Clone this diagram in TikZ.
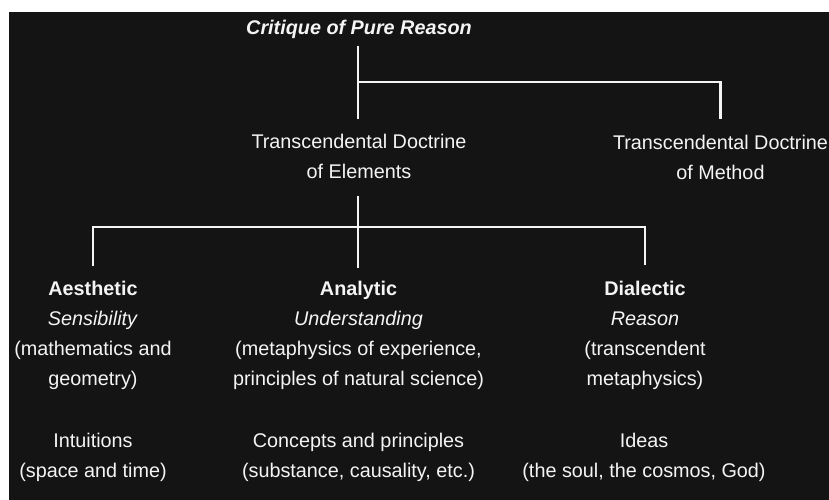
\documentclass[tikz,border=0pt]{standalone}
\usepackage{fontspec}
\setmainfont{Liberation Sans}
\definecolor{bgc}{HTML}{141414}
\definecolor{fgc}{HTML}{F4F4F4}
\begin{document}
\begin{tikzpicture}[x=1pt,y=-1pt,
  txt/.style={text=fgc, inner sep=0pt, align=center, anchor=base,
    font=\fontsize{19.8}{30}\selectfont},
  conn/.style={draw=fgc, line width=2.9pt}]
\useasboundingbox (0,0) rectangle (829,500);
\fill[white] (0,0) rectangle (829,500);
\fill[bgc] (9,12) rectangle (829,499.5);
% nodes (anchor base = baseline of the last line)
\node[txt] (t) at (359,35) {\textbf{\textit{Critique of Pure Reason}}};
\node[txt] (el) at (359,178) {Transcendental Doctrine\\of Elements};
\node[txt] (me) at (720.5,179) {Transcendental Doctrine\\of Method};
\node[txt] (ae) at (93,385) {\textbf{Aesthetic}\\\textit{Sensibility}\\(mathematics and\\geometry)};
\node[txt] (an) at (358.5,385) {\textbf{Analytic}\\\textit{Understanding}\\(metaphysics of experience,\\principles of natural science)};
\node[txt] (di) at (645,385) {\textbf{Dialectic}\\\textit{Reason}\\(transcendent\\metaphysics)};
\node[txt] (aeb) at (93,477) {Intuitions\\(space and time)};
\node[txt] (anb) at (358.5,477) {Concepts and principles\\(substance, causality, etc.)};
\node[txt] (dib) at (644,477) {Ideas\\(the soul, the cosmos, God)};
% junctions
\coordinate (j1) at (358,82);
\coordinate (j2) at (358,227);
% connectors
\draw[conn, shorten <=7pt, shorten >=14.5pt] (t.south -| j1) -- (el.north -| j1);
\draw[conn, shorten >=15.5pt] (j1) -| (me.north);
\draw[conn, shorten <=18pt, shorten >=12.5pt] (el.south -| j2) -- (an.north -| j2);
\draw[conn, shorten <=14.5pt, shorten >=15.5pt] (ae.north) |- (j2) -| (di.north);
\end{tikzpicture}
\end{document}
